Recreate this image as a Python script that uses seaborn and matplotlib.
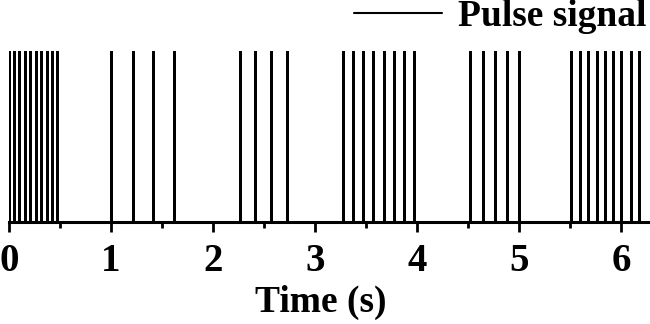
import numpy as np
import pandas as pd
import matplotlib
matplotlib.use("Agg")
import matplotlib.pyplot as plt
import seaborn as sns
from matplotlib.ticker import MultipleLocator

# Pulse times (s), grouped as they appear
burst1 = [0.00, 0.05, 0.10, 0.16, 0.21, 0.26, 0.31, 0.37, 0.42, 0.47]
burst2 = [1.00, 1.21, 1.41, 1.62]
burst3 = [2.26, 2.41, 2.57, 2.72]
burst4 = [3.27, 3.37, 3.47, 3.57, 3.67, 3.77, 3.87, 3.97]
burst5 = [4.52, 4.64, 4.76, 4.88, 5.00]
burst6 = [5.51, 5.59, 5.67, 5.76, 5.84, 5.92, 6.00, 6.09, 6.17]
pulse_high = 1.0
series_label = "Pulse signal"
x_label = "Time (s)"
x_ticks = [0, 1, 2, 3, 4, 5, 6]

times = burst1 + burst2 + burst3 + burst4 + burst5 + burst6
xs, ys = [], []
for t in times:
    xs += [t, t, t]
    ys += [0.0, pulse_high, 0.0]
df = pd.DataFrame({"t": xs, "v": ys})

sns.set_theme(style="white")
plt.rcParams['font.family'] = ['Liberation Serif', 'DejaVu Serif']
plt.rcParams['font.weight'] = 'bold'
plt.rcParams['text.color'] = 'black'
plt.rcParams['xtick.color'] = 'black'
plt.rcParams['axes.labelcolor'] = 'black'

fig = plt.figure(figsize=(6.5, 3.24), dpi=100)
ax = fig.add_axes([9/650, (324-222)/324, 1 - 9/650, (222-51)/324])

sns.lineplot(data=df, x="t", y="v", sort=False, estimator=None,
             color="black", linewidth=2.0, ax=ax, label=series_label)

ax.set_xlim(0, 6.28)
ax.set_ylim(0, 1.0)
for s in ["top", "right", "left"]:
    ax.spines[s].set_visible(False)
ax.spines["bottom"].set_linewidth(2.2)
ax.spines["bottom"].set_color("black")
ax.set_yticks([])
ax.set_ylabel("")
ax.set_xticks(x_ticks)
ax.set_xticklabels([str(v) for v in x_ticks], fontsize=28, fontweight='bold')
ax.xaxis.set_minor_locator(MultipleLocator(0.5))
ax.tick_params(axis="x", which="major", direction="out", length=7, width=2,
               color="black", pad=8, bottom=True, labelcolor="black")
ax.tick_params(axis="x", which="minor", direction="out", length=4, width=2,
               color="black", bottom=True)
ax.set_xlabel(x_label, fontsize=27, fontweight='bold', color="black")
ax.xaxis.set_label_coords((321 - 9) / (650 - 9), -(320 - 222) / (222 - 51), transform=ax.transAxes)
ax.xaxis.label.set_va("bottom")

leg = ax.legend(loc="center right", bbox_to_anchor=(646/650, 1 - 17/324),
                bbox_transform=fig.transFigure, frameon=False,
                prop={'size': 27, 'weight': 'bold'}, handlelength=2.35,
                handletextpad=0.42, borderaxespad=0, borderpad=0)
for h in leg.get_lines():
    h.set_linewidth(1.5)
for t in leg.get_texts():
    t.set_color("black")

fig.savefig("out.png", dpi=100, facecolor="white")
